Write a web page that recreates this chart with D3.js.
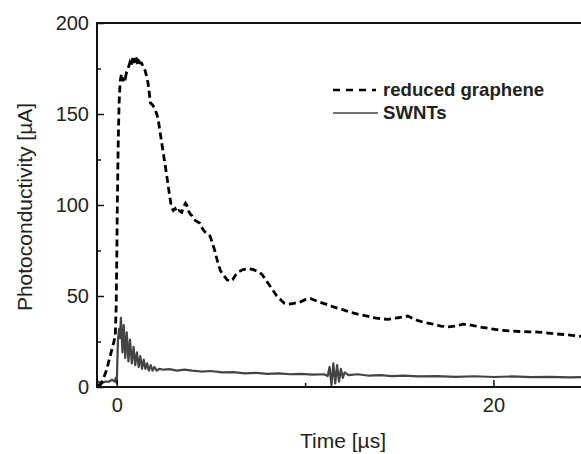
<!DOCTYPE html>
<html>
<head>
<meta charset="utf-8">
<script src="https://cdn.jsdelivr.net/npm/d3@7"></script>
<style>
  body { margin: 0; background: #fff; }
  text { font-family: "Liberation Sans", Arial, sans-serif; fill: #222; }
</style>
</head>
<body>
<div id="chart-area"></div>
<script>
var width = 581;
var height = 454;

// reduced graphene: [time in us, photoconductivity in uA]
var grapheneData = [
  [-1.0, 1], [-0.85, 1.5], [-0.7, 5], [-0.55, 9], [-0.45, 13], [-0.35, 17], [-0.25, 21],
  [-0.15, 25], [-0.08, 28], [-0.03, 45], [0.0, 70], [0.03, 100], [0.07, 130], [0.12, 155],
  [0.18, 168], [0.25, 172], [0.3, 170], [0.34, 168], [0.4, 171], [0.46, 170], [0.52, 173],
  [0.6, 175], [0.69, 178], [0.75, 176], [0.8, 179], [0.87, 181], [0.92, 178], [1.0, 182],
  [1.05, 180], [1.12, 177], [1.18, 179], [1.25, 178], [1.32, 178], [1.4, 176], [1.5, 174],
  [1.58, 171], [1.66, 167], [1.72, 162], [1.79, 156], [1.9, 155], [2.02, 153], [2.12, 150],
  [2.2, 147], [2.3, 140], [2.45, 130], [2.64, 117], [2.78, 107], [2.9, 99], [3.0, 97],
  [3.1, 98], [3.18, 96], [3.3, 97], [3.45, 96], [3.55, 99], [3.65, 101], [3.72, 100],
  [3.8, 97], [3.9, 95], [4.0, 94], [4.1, 92], [4.25, 91], [4.41, 90], [4.55, 87], [4.7, 85],
  [4.85, 84], [4.95, 83], [5.05, 80], [5.2, 75], [5.35, 69], [5.5, 64], [5.7, 61], [5.85, 59],
  [6.0, 58], [6.15, 59], [6.3, 61.5], [6.5, 63.5], [6.7, 64.5], [7.0, 65], [7.25, 64.5],
  [7.5, 63.5], [7.7, 62], [7.9, 59], [8.1, 56], [8.3, 53], [8.5, 50], [8.7, 48], [8.9, 46],
  [9.1, 45.5], [9.4, 46], [9.7, 46.5], [10.0, 48], [10.3, 48.5], [10.55, 47.5], [10.8, 46.5],
  [11.1, 45.5], [11.5, 44], [12.0, 42.5], [12.4, 41], [12.8, 40], [13.3, 39], [13.7, 38],
  [14.0, 37.5], [14.4, 37.2], [14.9, 38], [15.2, 38.5], [15.45, 39], [15.7, 37.8], [16.0, 36.5],
  [16.3, 35.5], [16.8, 34.5], [17.2, 33.5], [17.6, 33], [18.0, 33.5], [18.4, 34.5], [18.7, 34.3],
  [19.0, 33.6], [19.4, 32.8], [19.9, 32], [20.4, 31.2], [20.9, 30.8], [21.4, 30.5], [21.9, 30.3],
  [22.4, 30.2], [22.8, 29.8], [23.3, 29.2], [23.8, 28.8], [24.3, 28.2], [24.7, 27.8], [24.9, 27.5]
];

// SWNTs: [time in us, photoconductivity in uA]
var swntData = [
  [-1.0, 3], [-0.8, 2], [-0.6, 3], [-0.4, 3], [-0.25, 4], [-0.1, 3], [-0.05, 5], [0.0, 2],
  [0.02, 10], [0.06, 25], [0.12, 32], [0.17, 27], [0.22, 38], [0.3, 19], [0.37, 34], [0.45, 16],
  [0.53, 30], [0.62, 14], [0.7, 26], [0.8, 13], [0.89, 22], [0.98, 12], [1.07, 19], [1.16, 11],
  [1.25, 17], [1.34, 10], [1.43, 15], [1.52, 10], [1.61, 13], [1.7, 9], [1.8, 12], [1.9, 9],
  [2.0, 11], [2.12, 9], [2.25, 10], [2.5, 9.5], [2.8, 9.8], [3.2, 9], [3.6, 9.5], [4.0, 9],
  [4.5, 8.5], [5.0, 8.8], [5.6, 8], [6.2, 8.2], [6.8, 7.5], [7.4, 7.8], [8.0, 7.2], [8.6, 7.5],
  [9.2, 7], [9.8, 7.2], [10.4, 6.8], [11.0, 7], [11.2, 6], [11.3, 11], [11.4, 1], [11.5, 13],
  [11.6, 2], [11.7, 12], [11.8, 3], [11.9, 10], [12.0, 5], [12.1, 8], [12.3, 6.5], [12.8, 7],
  [13.4, 6.2], [14.0, 6.5], [14.6, 6], [15.2, 6.3], [16, 5.8], [17, 6], [18, 5.6], [19, 5.9],
  [20, 5.5], [21, 5.8], [22, 5.4], [23, 5.6], [24, 5.3], [24.8, 5.5]
];

var xMajor = [0, 20];
var xMinor = [10];
var yMajor = [0, 50, 100, 150, 200];
var yMinor = [25, 75, 125, 175];

var seriesNames = ["reduced graphene", "SWNTs"];

var plotLeft = 97, plotTop = 23, plotBottom = 387;

// Canvas
var svg = d3.select("#chart-area")
  .append("svg")
  .attr("width", width)
  .attr("height", height);

//  X: time
var x = d3.scaleLinear()
  .domain([-1.05, 24.65])
  .range([plotLeft, width]);

//  Y: photoconductivity
var y = d3.scaleLinear()
  .domain([0, 200])
  .range([plotBottom, plotTop]);

svg.append("clipPath")
  .attr("id", "plot-clip")
  .append("rect")
  .attr("x", plotLeft)
  .attr("y", plotTop)
  .attr("width", width - plotLeft)
  .attr("height", plotBottom - plotTop);

var line = d3.line()
  .x(function(d) { return x(d[0]); })
  .y(function(d) { return y(d[1]); });

var plot = svg.append("g").attr("clip-path", "url(#plot-clip)");

plot.append("path")
  .datum(swntData)
  .attr("fill", "none")
  .attr("stroke", "#444")
  .attr("stroke-width", 2.2)
  .attr("stroke-linejoin", "round")
  .attr("d", line);

plot.append("path")
  .datum(grapheneData)
  .attr("fill", "none")
  .attr("stroke", "#000")
  .attr("stroke-width", 2.8)
  .attr("stroke-dasharray", "7,4")
  .attr("d", line);

//  Axes (ticks point inward)
function styleAxis(g) {
  g.select(".domain").remove();
  g.selectAll(".tick line").attr("stroke", "#111").attr("stroke-width", 1.5);
  g.selectAll("text").attr("font-size", 20).attr("fill", "#222");
}

svg.append("g")
  .attr("transform", "translate(" + plotLeft + ",0)")
  .call(d3.axisLeft(y).tickValues(yMajor).tickSize(-7).tickPadding(8))
  .call(styleAxis);

svg.append("g")
  .attr("transform", "translate(" + plotLeft + ",0)")
  .call(d3.axisLeft(y).tickValues(yMinor).tickSize(-4).tickFormat(""))
  .call(styleAxis);

svg.append("g")
  .attr("transform", "translate(0," + plotBottom + ")")
  .call(d3.axisBottom(x).tickValues(xMajor).tickSize(-7).tickPadding(11))
  .call(styleAxis);

svg.append("g")
  .attr("transform", "translate(0," + plotBottom + ")")
  .call(d3.axisBottom(x).tickValues(xMinor).tickSize(-4).tickFormat(""))
  .call(styleAxis);

//  Frame
svg.append("path")
  .attr("d", "M" + width + "," + plotTop + "H" + plotLeft + "V" + plotBottom + "H" + width)
  .attr("fill", "none")
  .attr("stroke", "#111")
  .attr("stroke-width", 2);

//  Axis titles
svg.append("text")
  .attr("x", 343)
  .attr("y", 448)
  .attr("text-anchor", "middle")
  .attr("font-size", 21)
  .text("Time [\u00b5s]");

svg.append("text")
  .attr("transform", "translate(32,207) rotate(-90)")
  .attr("text-anchor", "middle")
  .attr("font-size", 21)
  .text("Photoconductivity [\u00b5A]");

//  Legend
var legend = svg.append("g");

legend.append("line")
  .attr("x1", 333).attr("x2", 376)
  .attr("y1", 90).attr("y2", 90)
  .attr("stroke", "#000")
  .attr("stroke-width", 2.6)
  .attr("stroke-dasharray", "7,6");

legend.append("line")
  .attr("x1", 333).attr("x2", 378)
  .attr("y1", 113).attr("y2", 113)
  .attr("stroke", "#444")
  .attr("stroke-width", 1.5);

legend.selectAll("text")
  .data(seriesNames)
  .enter()
  .append("text")
  .attr("x", 383)
  .attr("y", function(d, i) { return 96 + i * 23; })
  .attr("font-size", 18.6)
  .attr("font-weight", "bold")
  .attr("fill", "#111")
  .text(function(d) { return d; });
</script>
</body>
</html>
